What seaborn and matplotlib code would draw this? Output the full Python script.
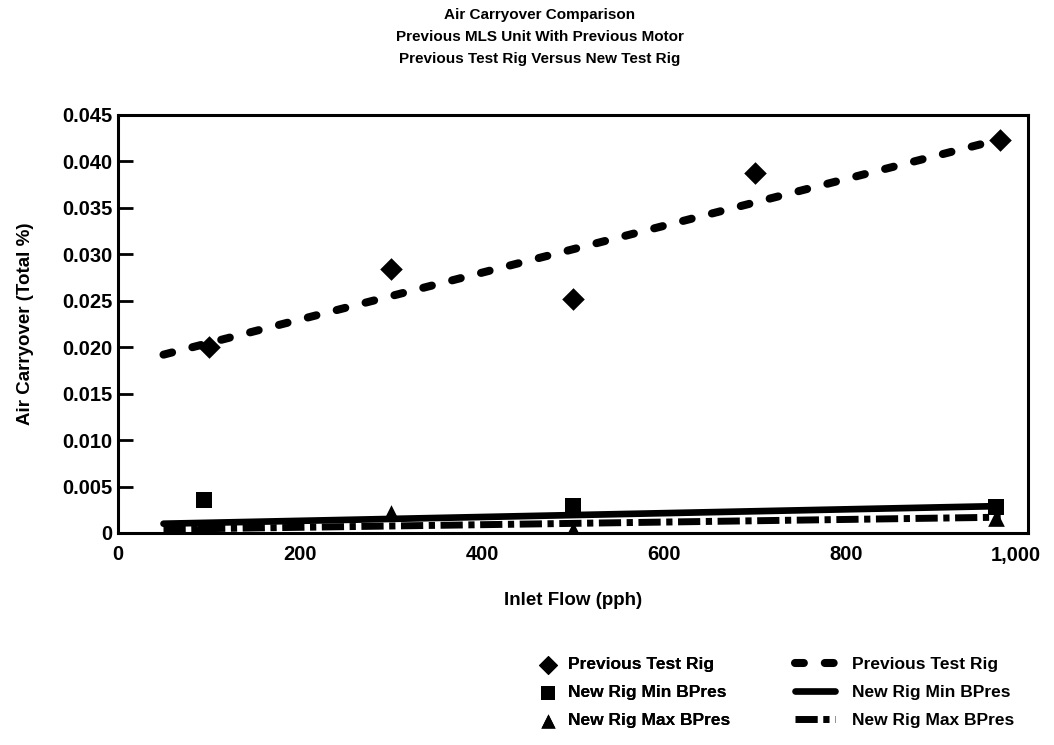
import matplotlib
matplotlib.use("Agg")
import matplotlib.pyplot as plt
import matplotlib.transforms as mtransforms
import seaborn as sns
import numpy as np
import pandas as pd

# ---- data ----
prev_x = [100, 300, 500, 700, 969]
prev_y = [0.0200, 0.0284, 0.0252, 0.0388, 0.0423]
min_x = [95, 500, 965]
min_y = [0.0035, 0.0029, 0.0028]
max_x = [90, 300, 500, 965]
max_y = [0.0005, 0.0022, 0.0003, 0.0016]
fit_x = [50, 970]
prev_fit_y = [0.0192, 0.0424]
min_fit_y = [0.0010, 0.0029]
max_fit_y = [0.0004, 0.0017]
x_ticks = [0, 200, 400, 600, 800, 1000]
x_tick_labels = ["0", "200", "400", "600", "800", "1,000"]
y_ticks = [0, 0.005, 0.010, 0.015, 0.020, 0.025, 0.030, 0.035, 0.040, 0.045]
y_tick_labels = ["0", "0.005", "0.010", "0.015", "0.020", "0.025", "0.030",
                 "0.035", "0.040", "0.045"]
title_lines = ["Air Carryover Comparison",
               "Previous MLS Unit With Previous Motor",
               "Previous Test Rig Versus New Test Rig"]
legend_labels = ["Previous Test Rig", "New Rig Min BPres", "New Rig Max BPres"]

sns.set_theme(style="white")
plt.rcParams["font.family"] = ["Liberation Sans", "DejaVu Sans"]
plt.rcParams["font.weight"] = "bold"

fig = plt.figure(figsize=(10.54, 7.45), dpi=100)
ax = fig.add_axes([118 / 1054, 1 - 533 / 745, 910 / 1054, 418 / 745])

# trend lines
sns.lineplot(x=fit_x, y=prev_fit_y, ax=ax, color="black", lw=5.8, zorder=3)
l_prev = ax.lines[-1]
l_prev.set_linestyle((0, (1.1, 2.6)))
l_prev.set_dash_capstyle("round")
sns.lineplot(x=fit_x, y=min_fit_y, ax=ax, color="black", lw=4.8, zorder=3)
l_min = ax.lines[-1]
sns.lineplot(x=fit_x, y=max_fit_y, ax=ax, color="black", lw=5.0, zorder=3)
l_max = ax.lines[-1]
l_max.set_linestyle((0, (3.2, 0.8, 0.9, 0.8)))

# data markers
sns.scatterplot(x=prev_x, y=prev_y, ax=ax, marker="D", s=11.5 ** 2,
                color="black", linewidth=0, zorder=5)
s_prev = ax.collections[-1]
sns.scatterplot(x=min_x, y=min_y, ax=ax, marker="s", s=11.5 ** 2,
                color="black", linewidth=0, zorder=5)
s_min = ax.collections[-1]
sns.scatterplot(x=max_x, y=max_y, ax=ax, marker="^", s=12 ** 2,
                color="black", linewidth=0, zorder=5)
s_max = ax.collections[-1]

ax.set_xlim(0, 1000)
ax.set_ylim(0, 0.045)
ax.set_xticks(x_ticks)
ax.set_xticklabels(x_tick_labels)
ax.set_yticks(y_ticks)
ax.set_yticklabels(y_tick_labels)
ax.tick_params(axis="y", direction="in", length=11, width=2, left=True,
               labelsize=14.5, pad=4, colors="black")
ax.tick_params(axis="x", length=0, labelsize=14.5, pad=9, colors="black")
for t in ax.get_xticklabels() + ax.get_yticklabels():
    t.set_fontweight("bold")
# last x label sits slightly inward, as in the reference
last = ax.get_xticklabels()[-1]
last.set_transform(last.get_transform() +
                   mtransforms.ScaledTranslation(-12 / 100, 0, fig.dpi_scale_trans))
for sp in ax.spines.values():
    sp.set_color("black")
    sp.set_linewidth(2.2)
    sp.set_visible(True)
ax.grid(False)

ax.set_xlabel("Inlet Flow (pph)", fontsize=13.5, fontweight="bold", labelpad=20,
              color="black")
ax.set_ylabel("Air Carryover (Total %)", fontsize=13.5, fontweight="bold",
              labelpad=20, color="black")

for line, yy in zip(title_lines, [15, 37, 59]):
    fig.text(0.512, 1 - yy / 745, line, ha="center", va="center",
             fontsize=11, fontweight="bold", color="black")

leg1 = fig.legend([s_prev, s_min, s_max], legend_labels,
                  loc="upper left", bbox_to_anchor=(538 / 1054, 1 - 657 / 745),
                  frameon=False, fontsize=12.5, handlelength=1.2,
                  handletextpad=0.5, labelspacing=0.74, borderpad=0,
                  borderaxespad=0, markerscale=0.85)
leg2 = fig.legend([l_prev, l_min, l_max], legend_labels,
                  loc="upper left", bbox_to_anchor=(795 / 1054, 1 - 657 / 745),
                  frameon=False, fontsize=12.5, handlelength=2.3,
                  handletextpad=1.0, labelspacing=0.74, borderpad=0,
                  borderaxespad=0)
fig.add_artist(leg1)
for leg in (leg1, leg2):
    for t in leg.get_texts():
        t.set_fontweight("bold")
        t.set_color("black")

fig.savefig("out.png", dpi=100)
